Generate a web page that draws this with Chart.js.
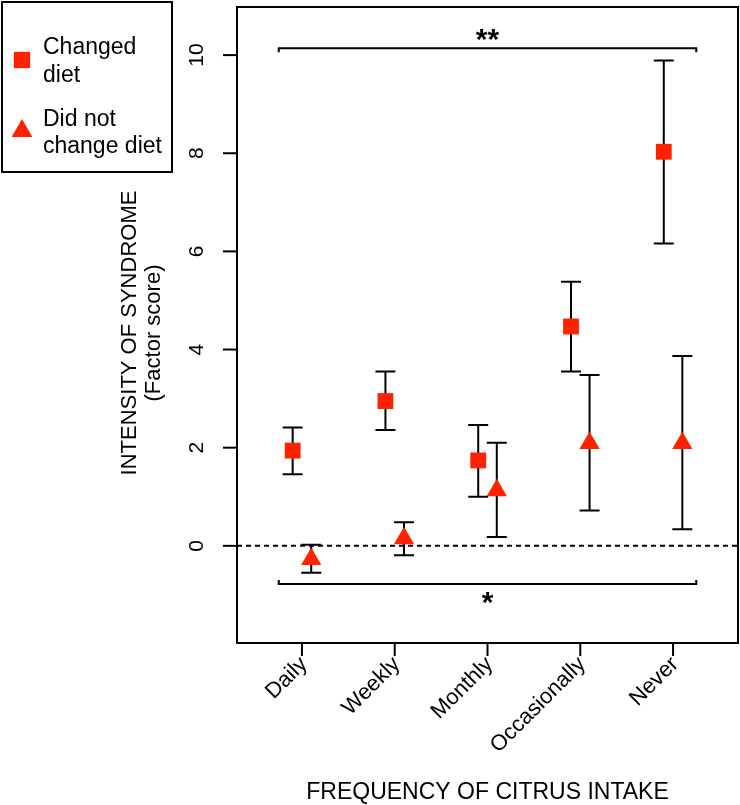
<!DOCTYPE html>
<html>
<head>
<meta charset="utf-8">
<script src="https://cdn.jsdelivr.net/npm/chart.js@4/dist/chart.umd.min.js"></script>
<style>
  html, body { margin: 0; padding: 0; background: #fff; overflow: hidden; }
  #wrap { width: 740px; height: 805px; position: relative; }
</style>
</head>
<body>
<div id="wrap"><canvas id="chart"></canvas></div>
<script>
// data
const categories = ['Daily', 'Weekly', 'Monthly', 'Occasionally', 'Never']
const changedMean = [1.94, 2.95, 1.74, 4.47, 8.03]
const changedLow = [1.46, 2.36, 1.0, 3.55, 6.16]
const changedHigh = [2.41, 3.55, 2.46, 5.38, 9.89]
const notChangedMean = [-0.27, 0.15, 1.13, 2.09, 2.09]
const notChangedLow = [-0.55, -0.19, 0.18, 0.72, 0.34]
const notChangedHigh = [0.02, 0.48, 2.1, 3.48, 3.87]
const yTicks = [0, 2, 4, 6, 8, 10]
const bracketY = [10.14, -0.78]
const bracketLabels = ['**', '*']

const RED = '#ff2200'
const FONT = '"Liberation Sans", Arial, sans-serif'

function toPoints(means, offset) {
  return means.map((v, i) => ({ x: i + 1 + offset, y: v }))
}

const errorBars = [
  { low: changedLow, high: changedHigh, offset: -0.1 },
  { low: notChangedLow, high: notChangedHigh, offset: 0.1 },
]

// error bars, dashed zero line and the significance brackets (under the markers)
const underlay = {
  id: 'underlay',
  beforeDatasetsDraw(chart) {
    const { ctx, chartArea, scales } = chart
    const x = scales.x, y = scales.y
    ctx.save()
    ctx.strokeStyle = '#000'
    ctx.lineWidth = 2

    // zero line
    ctx.setLineDash([5, 4])
    ctx.beginPath()
    ctx.moveTo(chartArea.left, y.getPixelForValue(0))
    ctx.lineTo(chartArea.right, y.getPixelForValue(0))
    ctx.stroke()
    ctx.setLineDash([])

    // error bars
    errorBars.forEach(s => {
      s.low.forEach((lo, i) => {
        const px = x.getPixelForValue(i + 1 + s.offset)
        const y1 = y.getPixelForValue(lo)
        const y2 = y.getPixelForValue(s.high[i])
        ctx.beginPath()
        ctx.moveTo(px, y1); ctx.lineTo(px, y2)
        ctx.moveTo(px - 10, y1); ctx.lineTo(px + 10, y1)
        ctx.moveTo(px - 10, y2); ctx.lineTo(px + 10, y2)
        ctx.stroke()
      })
    })

    // brackets
    const xl = x.getPixelForValue(0.75)
    const xr = x.getPixelForValue(5.25)
    const xm = x.getPixelForValue(3)
    ctx.fillStyle = '#000'
    ctx.textAlign = 'center'
    ctx.textBaseline = 'middle'
    ctx.font = 'bold 30px ' + FONT
    bracketY.forEach((v, k) => {
      const py = y.getPixelForValue(v)
      const dir = k === 0 ? 1 : -1
      ctx.beginPath()
      ctx.moveTo(xl, py + 4 * dir)
      ctx.lineTo(xl, py)
      ctx.lineTo(xr, py)
      ctx.lineTo(xr, py + 4 * dir)
      ctx.stroke()
      if (k === 0) {
        ctx.fillText(bracketLabels[k], xm, py - 7)
      } else {
        ctx.fillText(bracketLabels[k], xm, py + 20)
      }
    })
    ctx.restore()
  },
}

// frame, axes, titles and the legend box
const decorations = {
  id: 'decorations',
  afterDraw(chart) {
    const { ctx, chartArea, scales } = chart
    const x = scales.x, y = scales.y
    ctx.save()
    ctx.strokeStyle = '#000'
    ctx.fillStyle = '#000'
    ctx.lineWidth = 2
    ctx.strokeRect(chartArea.left, chartArea.top, chartArea.right - chartArea.left, chartArea.bottom - chartArea.top)

    // y axis
    ctx.font = '21px ' + FONT
    ctx.textAlign = 'center'
    ctx.textBaseline = 'middle'
    yTicks.forEach(t => {
      const py = y.getPixelForValue(t)
      ctx.beginPath()
      ctx.moveTo(chartArea.left - 14, py)
      ctx.lineTo(chartArea.left, py)
      ctx.stroke()
      ctx.save()
      ctx.translate(chartArea.left - 40, py)
      ctx.rotate(-Math.PI / 2)
      ctx.fillText(String(t), 0, 0)
      ctx.restore()
    })

    // x axis
    ctx.font = '22px ' + FONT
    categories.forEach((c, i) => {
      const px = x.getPixelForValue(i + 1)
      ctx.beginPath()
      ctx.moveTo(px, chartArea.bottom)
      ctx.lineTo(px, chartArea.bottom + 13)
      ctx.stroke()
      ctx.save()
      ctx.translate(px + 2, chartArea.bottom + 18)
      ctx.rotate(-Math.PI / 4)
      ctx.textAlign = 'right'
      ctx.fillText(c, 0, 0)
      ctx.restore()
    })

    // axis titles
    ctx.font = '23px ' + FONT
    ctx.textAlign = 'center'
    ctx.textBaseline = 'alphabetic'
    ctx.fillText('FREQUENCY OF CITRUS INTAKE', (chartArea.left + chartArea.right) / 2, 799)
    ctx.font = '22px ' + FONT
    ctx.save()
    ctx.translate(136, 333)
    ctx.rotate(-Math.PI / 2)
    ctx.fillText('INTENSITY OF SYNDROME', 0, 0)
    ctx.fillText('(Factor score)', 0, 24)
    ctx.restore()

    // legend
    ctx.strokeRect(2, 2, 170, 170)
    ctx.fillStyle = RED
    Chart.helpers.drawPoint(ctx, { pointStyle: 'rect', radius: 11.5, borderWidth: 0 }, 22, 60)
    Chart.helpers.drawPoint(ctx, { pointStyle: 'triangle', radius: 12, borderWidth: 0 }, 22, 131)
    ctx.fillStyle = '#000'
    ctx.textAlign = 'left'
    ctx.font = '23px ' + FONT
    ctx.fillText('Changed', 43, 54)
    ctx.fillText('diet', 43, 82)
    ctx.fillText('Did not', 43, 126)
    ctx.fillText('change diet', 43, 153)
    ctx.restore()
  },
}

new Chart(document.getElementById('chart').getContext('2d'), {
  type: 'scatter',
  data: {
    datasets: [
      {
        label: 'Changed diet',
        data: toPoints(changedMean, -0.1),
        pointStyle: 'rect',
        pointRadius: 11.2,
        backgroundColor: RED,
        borderWidth: 0,
      },
      {
        label: 'Did not change diet',
        data: toPoints(notChangedMean, 0.1),
        pointStyle: 'triangle',
        pointRadius: 11.7,
        backgroundColor: RED,
        borderWidth: 0,
      },
    ],
  },
  options: {
    responsive: true,
    maintainAspectRatio: false,
    animation: false,
    events: [],
    layout: { autoPadding: false, padding: { left: 237, top: 7, right: 2, bottom: 162 } },
    plugins: { legend: { display: false }, tooltip: { enabled: false } },
    scales: {
      x: { type: 'linear', min: 0.3, max: 5.7, display: false },
      y: { type: 'linear', min: -1.98, max: 10.98, display: false },
    },
  },
  plugins: [underlay, decorations],
})
</script>
</body>
</html>
